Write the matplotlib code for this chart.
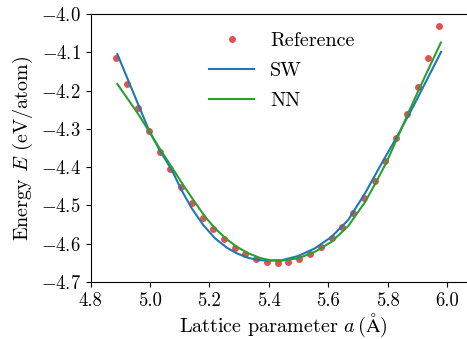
"""
Energy vs lattice parameter: reference data against SW and NN potentials.
"""

import matplotlib
matplotlib.use("Agg")
import matplotlib.pyplot as plt

# reference energies (eV/atom) at each lattice parameter (Angstrom)
a_ref = [4.887, 4.923, 4.959, 4.996, 5.032, 5.068, 5.104, 5.140, 5.177, 5.213,
         5.249, 5.285, 5.321, 5.358, 5.394, 5.430, 5.466, 5.502, 5.539, 5.575,
         5.611, 5.647, 5.683, 5.720, 5.756, 5.792, 5.828, 5.864, 5.901, 5.937,
         5.973]
e_ref = [-4.116, -4.183, -4.246, -4.305, -4.360, -4.405, -4.451, -4.494, -4.532,
         -4.562, -4.588, -4.611, -4.627, -4.640, -4.648, -4.651, -4.648, -4.640,
         -4.627, -4.609, -4.585, -4.556, -4.521, -4.481, -4.435, -4.383, -4.325,
         -4.261, -4.191, -4.114, -4.031]

# Stillinger-Weber curve
a_sw = [4.890, 4.997, 5.034, 5.073, 5.106, 5.140, 5.179, 5.219, 5.258, 5.292,
        5.331, 5.370, 5.404, 5.443, 5.499, 5.555, 5.611, 5.667, 5.724, 5.777,
        5.831, 5.885, 5.932, 5.980]
e_sw = [-4.105, -4.305, -4.358, -4.407, -4.460, -4.507, -4.551, -4.586, -4.610,
        -4.625, -4.637, -4.643, -4.644, -4.643, -4.632, -4.612, -4.582, -4.538,
        -4.468, -4.394, -4.321, -4.243, -4.172, -4.099]

# neural-network potential curve
a_nn = [4.890, 4.960, 5.034, 5.073, 5.112, 5.146, 5.185, 5.219, 5.258, 5.292,
        5.331, 5.370, 5.404, 5.443, 5.499, 5.555, 5.611, 5.667, 5.724, 5.761,
        5.798, 5.832, 5.868, 5.903, 5.942, 5.979]
e_nn = [-4.183, -4.261, -4.353, -4.400, -4.447, -4.486, -4.529, -4.560, -4.588,
        -4.608, -4.625, -4.637, -4.643, -4.644, -4.638, -4.621, -4.595, -4.554,
        -4.491, -4.439, -4.384, -4.325, -4.261, -4.201, -4.136, -4.075]

x_ticks = [4.8, 5.0, 5.2, 5.4, 5.6, 5.8, 6.0]
y_ticks = [-4.7, -4.6, -4.5, -4.4, -4.3, -4.2, -4.1, -4.0]

plt.rcParams["font.family"] = "serif"
plt.rcParams["font.serif"] = ["cmr10"]
plt.rcParams["mathtext.fontset"] = "cm"
plt.rcParams["axes.formatter.use_mathtext"] = True
plt.rcParams["axes.unicode_minus"] = True


def plot_eos(output_path="out.png"):
    fig = plt.figure(figsize=(4.67, 3.39), dpi=100)
    ax = fig.add_axes([0.194, 0.168, 0.806, 0.791])

    ax.plot(a_ref, e_ref, "o", color="#d62728", alpha=0.8, ms=5,
            mec="none", label="Reference")
    ax.plot(a_sw, e_sw, color="#1f77b4", lw=1.5, label="SW")
    ax.plot(a_nn, e_nn, color="#2ca02c", lw=1.5, label="NN")

    ax.set_xlim(4.8, 6.067)
    ax.set_ylim(-4.7, -4.0)
    ax.set_xticks(x_ticks)
    ax.set_yticks(y_ticks)
    ax.set_xticklabels([f"{t:.1f}" for t in x_ticks])
    ax.set_yticklabels([f"$-{abs(t):.1f}$" for t in y_ticks])
    ax.tick_params(labelsize=13.5)
    ax.spines["right"].set_visible(False)

    ax.set_xlabel(r"Lattice parameter $a\,(\mathrm{\AA})$", fontsize=14.5)
    # original axes run a little past the right edge, so the label sits off-centre
    ax.xaxis.set_label_coords(0.512, -0.112)
    ax.set_ylabel(r"Energy $E$ (eV/atom)", fontsize=14.5)

    ax.legend(loc="upper center", bbox_to_anchor=(0.508, 1.0), frameon=False,
              fontsize=14.5, handlelength=2.2, labelspacing=0.6)

    fig.savefig(output_path, dpi=100)
    return fig


if __name__ == "__main__":
    plot_eos()
